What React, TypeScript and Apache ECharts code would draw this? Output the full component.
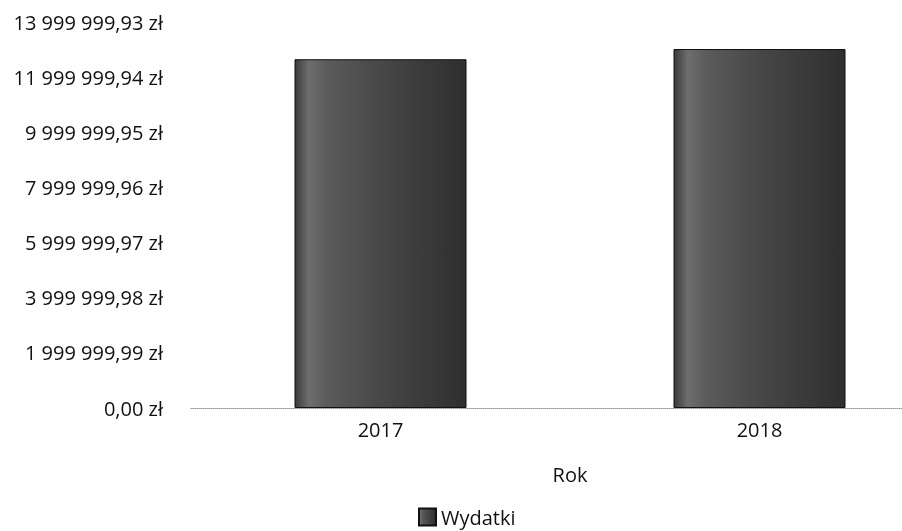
import React, { useEffect, useRef } from "react";
import * as echarts from "echarts";

const categories = ["2017", "2018"];
const wydatki = [12650000, 13020000];
const yMax = 13999999.93;
const yStep = 1999999.99;
const seriesName = "Wydatki";
const xAxisName = "Rok";

const fmt = (v: number) => {
  const s = (Math.round(v * 100) / 100).toFixed(2);
  const [i, d] = s.split(".");
  return i.replace(/\B(?=(\d{3})+(?!\d))/g, " ") + "," + d + " zł";
};

const barFill = new echarts.graphic.LinearGradient(0, 0, 1, 0, [
  { offset: 0, color: "#3a3a3a" },
  { offset: 0.08, color: "#6e6e6e" },
  { offset: 0.18, color: "#5c5c5c" },
  { offset: 0.45, color: "#4a4a4a" },
  { offset: 1, color: "#2e2e2e" },
]);

export default function App() {
  const ref = useRef<HTMLDivElement>(null);
  useEffect(() => {
    if (!ref.current) return;
    const chart = echarts.init(ref.current, undefined, { renderer: "svg" });
    chart.setOption({
      animation: false,
      textStyle: { fontFamily: "Open Sans", color: "#111" },
      grid: { left: 191, right: 11, top: 22, height: 386, containLabel: false },
      legend: {
        data: [seriesName],
        left: 418,
        top: 507,
        padding: 0,
        itemWidth: 17,
        itemHeight: 17,
        itemGap: 6,
        icon: "rect",
        textStyle: { fontSize: 20, lineHeight: 20, color: "#111", fontFamily: "Open Sans" },
      },
      xAxis: {
        type: "category",
        data: categories,
        name: xAxisName,
        nameLocation: "middle",
        nameGap: 56,
        nameTextStyle: { fontSize: 20, color: "#111", fontFamily: "Open Sans" },
        axisTick: { show: false },
        axisLine: { show: true, lineStyle: { color: "#9a9a9a", type: "dotted", width: 1 } },
        axisLabel: { fontSize: 20, color: "#111", margin: 11, fontFamily: "Open Sans" },
      },
      yAxis: {
        type: "value",
        min: 0,
        max: yMax,
        interval: yStep,
        splitLine: { show: false },
        axisLine: { show: false },
        axisTick: { show: false },
        axisLabel: {
          fontSize: 20,
          color: "#111",
          margin: 28,
          fontFamily: "Open Sans",
          formatter: (v: number) => fmt(v),
        },
      },
      series: [
        {
          name: seriesName,
          type: "bar",
          data: wydatki,
          barWidth: 172,
          itemStyle: { color: barFill, borderColor: "#111", borderWidth: 1 },
        },
      ],
    });
    return () => chart.dispose();
  }, []);
  return (
    <div
      style={{ position: "fixed", left: 0, top: 0, width: 902, height: 531, overflow: "hidden" }}
    >
      <div ref={ref} style={{ width: 960, height: 531 }} />
    </div>
  );
}
